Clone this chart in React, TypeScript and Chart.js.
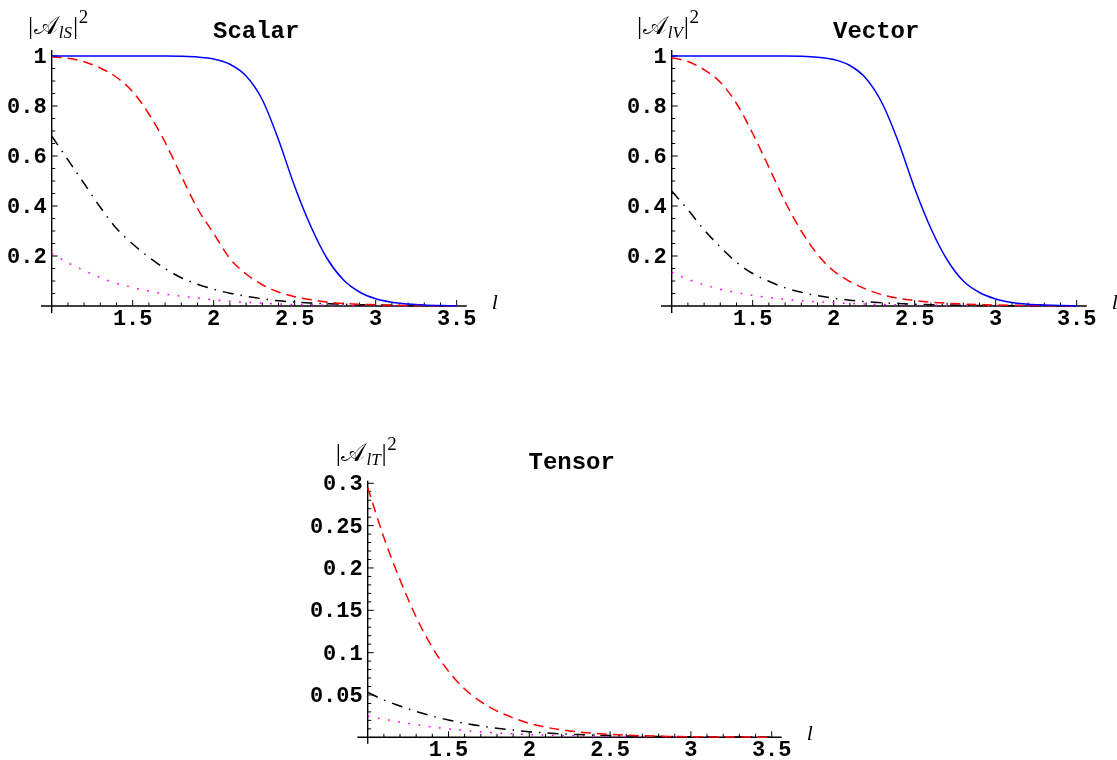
import React, { useEffect, useRef } from "react";
import { Chart, registerables } from "chart.js";

Chart.register(...registerables);

// ---------- data ----------
const L_VALUES = [1.0, 1.1, 1.2, 1.3, 1.4, 1.5, 1.6, 1.7, 1.8, 1.9, 2.0, 2.1, 2.2, 2.3, 2.4, 2.5, 2.6, 2.7, 2.8, 2.9, 3.0, 3.1, 3.2, 3.3, 3.4, 3.5];

const SCALAR_BLUE = [1, 1, 1, 1, 1, 1, 1, 1, 0.999, 0.996, 0.988, 0.967, 0.92, 0.825, 0.665, 0.478, 0.318, 0.19, 0.105, 0.056, 0.029, 0.015, 0.008, 0.004, 0.002, 0.001];
const SCALAR_RED = [0.997, 0.991, 0.977, 0.952, 0.915, 0.857, 0.768, 0.655, 0.52, 0.39, 0.29, 0.19, 0.128, 0.085, 0.056, 0.037, 0.025, 0.016, 0.01, 0.007, 0.005, 0.003, 0.002, 0.0015, 0.001, 0.0007];
const SCALAR_BLACK = [0.68, 0.585, 0.49, 0.395, 0.31, 0.248, 0.195, 0.15, 0.113, 0.087, 0.067, 0.051, 0.039, 0.029, 0.021, 0.016, 0.012, 0.009, 0.007, 0.005, 0.004, 0.003, 0.002, 0.0015, 0.001, 0.0008];
const SCALAR_MAGENTA = [0.21, 0.173, 0.142, 0.114, 0.091, 0.074, 0.06, 0.048, 0.039, 0.032, 0.025, 0.019, 0.015, 0.011, 0.008, 0.006, 0.005, 0.004, 0.003, 0.002, 0.0015, 0.001, 0.001, 0.0007, 0.0005, 0.0004];

const VECTOR_BLUE = [1, 1, 1, 1, 1, 1, 1, 1, 0.999, 0.995, 0.986, 0.962, 0.91, 0.81, 0.655, 0.47, 0.31, 0.185, 0.1, 0.054, 0.028, 0.014, 0.007, 0.004, 0.002, 0.001];
const VECTOR_RED = [0.993, 0.978, 0.945, 0.895, 0.81, 0.69, 0.555, 0.417, 0.3, 0.206, 0.14, 0.098, 0.067, 0.045, 0.031, 0.022, 0.015, 0.011, 0.008, 0.0055, 0.004, 0.003, 0.002, 0.0015, 0.001, 0.0008];
const VECTOR_BLACK = [0.46, 0.385, 0.305, 0.236, 0.175, 0.13, 0.099, 0.073, 0.055, 0.041, 0.031, 0.023, 0.017, 0.013, 0.01, 0.007, 0.0055, 0.004, 0.003, 0.0023, 0.0017, 0.0013, 0.001, 0.0008, 0.0006, 0.0005];
const VECTOR_MAGENTA = [0.135, 0.107, 0.085, 0.067, 0.054, 0.043, 0.034, 0.027, 0.021, 0.017, 0.013, 0.01, 0.008, 0.006, 0.005, 0.004, 0.003, 0.0024, 0.0019, 0.0015, 0.0012, 0.001, 0.0008, 0.0006, 0.0005, 0.0004];

const TENSOR_RED = [0.295, 0.236, 0.186, 0.142, 0.106, 0.078, 0.057, 0.042, 0.031, 0.023, 0.0165, 0.012, 0.0088, 0.0064, 0.0047, 0.0034, 0.0025, 0.0018, 0.0013, 0.001, 0.0007, 0.0005, 0.0004, 0.0003, 0.0002, 0.00015];
const TENSOR_BLACK = [0.053, 0.044, 0.037, 0.0305, 0.025, 0.0205, 0.0165, 0.0133, 0.0107, 0.0085, 0.0066, 0.0052, 0.0041, 0.0032, 0.0025, 0.002, 0.0016, 0.0012, 0.001, 0.0008, 0.0006, 0.0005, 0.0004, 0.0003, 0.0002, 0.0002];
const TENSOR_MAGENTA = [0.025, 0.0213, 0.018, 0.015, 0.0122, 0.0099, 0.008, 0.0064, 0.0051, 0.0041, 0.0032, 0.0025, 0.002, 0.0016, 0.0012, 0.001, 0.0008, 0.0006, 0.0005, 0.0004, 0.0003, 0.0002, 0.0002, 0.0001, 0.0001, 0.0001];

const X_TICK_VALUES = [1.5, 2, 2.5, 3, 3.5];
const X_TICK_LABELS = ["1.5", "2", "2.5", "3", "3.5"];
const SV_Y_TICK_VALUES = [0.2, 0.4, 0.6, 0.8, 1];
const SV_Y_TICK_LABELS = ["0.2", "0.4", "0.6", "0.8", "1"];
const T_Y_TICK_VALUES = [0.05, 0.1, 0.15, 0.2, 0.25, 0.3];
const T_Y_TICK_LABELS = ["0.05", "0.1", "0.15", "0.2", "0.25", "0.3"];

const TITLES = ["Scalar", "Vector", "Tensor"];
const Y_SUBSCRIPTS = ["lS", "lV", "lT"];
const X_AXIS_LABEL = "l";

// ---------- styles ----------
const BLUE = { color: "#0000ff", dash: [] as number[] };
const RED = { color: "#ff0000", dash: [10, 6] };
const BLACK = { color: "#000000", dash: [11, 7, 1.5, 7] };
const MAGENTA = { color: "#ff00ff", dash: [1.8, 8.5] };

const TICK_FONT = 'bold 22px "Liberation Mono", "DejaVu Sans Mono", monospace';
const TITLE_FONT = 'bold 24px "Liberation Mono", "DejaVu Sans Mono", monospace';

type Series = { data: number[]; style: { color: string; dash: number[] } };
type PanelCfg = {
  left: number; top: number; width: number; height: number;
  pad: { left: number; top: number; right: number; bottom: number };
  yMax: number; yMinorStep: number; yTicks: number[]; yLabels: string[];
  title: string; titleBaseline: number;
  sub: string; yLabelX: number; yLabelBaseline: number;
  xFrom: number; xTo: number; yFrom: number; yTo: number;
  series: Series[];
};

const PANELS: PanelCfg[] = [
  {
    left: 0, top: 0, width: 540, height: 340,
    pad: { left: 51.7, top: 56, right: 83.3, bottom: 34 },
    yMax: 1, yMinorStep: 0.05, yTicks: SV_Y_TICK_VALUES, yLabels: SV_Y_TICK_LABELS,
    title: TITLES[0], titleBaseline: 37.5,
    sub: Y_SUBSCRIPTS[0], yLabelX: 28, yLabelBaseline: 34,
    xFrom: 0.934, xTo: 3.562, yFrom: -0.028, yTo: 1.024,
    series: [
      { data: SCALAR_BLUE, style: BLUE },
      { data: SCALAR_RED, style: RED },
      { data: SCALAR_BLACK, style: BLACK },
      { data: SCALAR_MAGENTA, style: MAGENTA },
    ],
  },
  {
    left: 600, top: 0, width: 517, height: 340,
    pad: { left: 71.7, top: 56, right: 40.3, bottom: 34 },
    yMax: 1, yMinorStep: 0.05, yTicks: SV_Y_TICK_VALUES, yLabels: SV_Y_TICK_LABELS,
    title: TITLES[1], titleBaseline: 37.5,
    sub: Y_SUBSCRIPTS[1], yLabelX: 37, yLabelBaseline: 34,
    xFrom: 0.934, xTo: 3.562, yFrom: -0.028, yTo: 1.024,
    series: [
      { data: VECTOR_BLUE, style: BLUE },
      { data: VECTOR_RED, style: RED },
      { data: VECTOR_BLACK, style: BLACK },
      { data: VECTOR_MAGENTA, style: MAGENTA },
    ],
  },
  {
    left: 290, top: 420, width: 540, height: 340,
    pad: { left: 77.7, top: 63.3, right: 58.3, bottom: 22.7 },
    yMax: 0.3, yMinorStep: 0.01, yTicks: T_Y_TICK_VALUES, yLabels: T_Y_TICK_LABELS,
    title: TITLES[2], titleBaseline: 49.3,
    sub: Y_SUBSCRIPTS[2], yLabelX: 45.7, yLabelBaseline: 41,
    xFrom: 0.936, xTo: 3.562, yFrom: -0.0075, yTo: 0.303,
    series: [
      { data: TENSOR_RED, style: RED },
      { data: TENSOR_BLACK, style: BLACK },
      { data: TENSOR_MAGENTA, style: MAGENTA },
    ],
  },
];

const mmaPlugin = {
  id: "mma",
  beforeDatasetsDraw(chart: any, _args: any, o: any) {
    const ctx = chart.ctx as CanvasRenderingContext2D;
    const xs = chart.scales.x, ys = chart.scales.y;
    const X = (v: number) => xs.getPixelForValue(v);
    const Y = (v: number) => ys.getPixelForValue(v);
    const x0 = X(1), y0 = Y(0);
    ctx.save();
    ctx.strokeStyle = "#000";
    ctx.lineWidth = 1.4;
    ctx.beginPath();
    ctx.moveTo(X(o.xFrom), y0);
    ctx.lineTo(X(o.xTo), y0);
    ctx.moveTo(x0, Y(o.yFrom));
    ctx.lineTo(x0, Y(o.yTo));
    ctx.stroke();
    ctx.lineWidth = 1;
    ctx.beginPath();
    for (let k = 11; k <= 35; k++) {
      const v = k / 10;
      const len = k % 5 === 0 ? 6 : 3.5;
      ctx.moveTo(X(v), y0);
      ctx.lineTo(X(v), y0 - len);
    }
    const n = Math.round(o.yMax / o.yMinorStep);
    for (let k = 1; k <= n; k++) {
      const v = k * o.yMinorStep;
      const major = o.yTicks.some((t: number) => Math.abs(t - v) < 1e-9);
      const len = major ? 6 : 3.5;
      ctx.moveTo(x0, Y(v));
      ctx.lineTo(x0 + len, Y(v));
    }
    ctx.stroke();
    ctx.restore();
  },
  afterDraw(chart: any, _args: any, o: any) {
    const ctx = chart.ctx as CanvasRenderingContext2D;
    const xs = chart.scales.x, ys = chart.scales.y;
    const X = (v: number) => xs.getPixelForValue(v);
    const Y = (v: number) => ys.getPixelForValue(v);
    const x0 = X(1), y0 = Y(0);
    ctx.save();
    ctx.fillStyle = "#000";
    ctx.textBaseline = "alphabetic";
    // tick labels
    ctx.font = TICK_FONT;
    ctx.textAlign = "center";
    X_TICK_VALUES.forEach((v, i) => ctx.fillText(X_TICK_LABELS[i], X(v), y0 + 19));
    ctx.textAlign = "right";
    o.yTicks.forEach((v: number, i: number) => ctx.fillText(o.yLabels[i], x0 - 5, Y(v) + 7));
    // title
    ctx.font = TITLE_FONT;
    ctx.textAlign = "center";
    ctx.fillText(o.title, (chart.chartArea.left + chart.chartArea.right) / 2 + 2, o.titleBaseline);
    // x axis label
    ctx.font = 'italic 22px "Liberation Serif", "DejaVu Serif", serif';
    ctx.textAlign = "left";
    ctx.fillText(X_AXIS_LABEL, X(3.5) + 35, y0 + 3);
    // y axis label |A_sub|^2
    let x = o.yLabelX;
    const b = o.yLabelBaseline;
    ctx.font = '26px "Liberation Serif", serif';
    ctx.fillText("|", x, b);
    x += ctx.measureText("|").width + 0.5;
    ctx.font = '25px "DejaVu Serif", "DejaVu Sans", "Noto Sans", serif';
    ctx.fillText("𝒜", x, b);
    x += ctx.measureText("𝒜").width + 1;
    ctx.font = 'italic 17px "Liberation Serif", serif';
    ctx.fillText(o.sub, x, b + 4);
    x += ctx.measureText(o.sub).width + 1;
    ctx.font = '26px "Liberation Serif", serif';
    ctx.fillText("|", x, b);
    x += ctx.measureText("|").width + 0.5;
    ctx.font = '19px "Liberation Serif", serif';
    ctx.fillText("2", x, b - 11);
    ctx.restore();
  },
};

function Panel({ cfg }: { cfg: PanelCfg }) {
  const ref = useRef<HTMLCanvasElement>(null);
  useEffect(() => {
    const chart = new Chart(ref.current as HTMLCanvasElement, {
      type: "line",
      data: {
        datasets: cfg.series.map((s) => ({
          data: L_VALUES.map((l, i) => ({ x: l, y: s.data[i] })),
          borderColor: s.style.color,
          borderDash: s.style.dash,
          borderWidth: 1.5,
          pointRadius: 0,
          fill: false,
          cubicInterpolationMode: "monotone",
          clip: false,
        })),
      } as any,
      options: {
        responsive: false,
        animation: false,
        devicePixelRatio: 1,
        events: [],
        layout: { padding: cfg.pad },
        scales: {
          x: { type: "linear", min: 1, max: 3.5, display: false },
          y: { type: "linear", min: 0, max: cfg.yMax, display: false },
        },
        plugins: {
          legend: { display: false },
          tooltip: { enabled: false },
          mma: {
            yMax: cfg.yMax, yMinorStep: cfg.yMinorStep, yTicks: cfg.yTicks, yLabels: cfg.yLabels,
            title: cfg.title, titleBaseline: cfg.titleBaseline, sub: cfg.sub,
            yLabelX: cfg.yLabelX, yLabelBaseline: cfg.yLabelBaseline,
            xFrom: cfg.xFrom, xTo: cfg.xTo, yFrom: cfg.yFrom, yTo: cfg.yTo,
          },
        } as any,
      },
      plugins: [mmaPlugin],
    });
    return () => chart.destroy();
  }, [cfg]);
  return (
    <canvas
      ref={ref}
      width={cfg.width}
      height={cfg.height}
      style={{ position: "absolute", left: cfg.left, top: cfg.top, width: cfg.width, height: cfg.height }}
    />
  );
}

export default function App() {
  return (
    <div style={{ position: "absolute", left: 0, top: 0, width: 1117, height: 760, background: "#fff", overflow: "hidden" }}>
      {PANELS.map((p, i) => (
        <Panel key={i} cfg={p} />
      ))}
    </div>
  );
}
